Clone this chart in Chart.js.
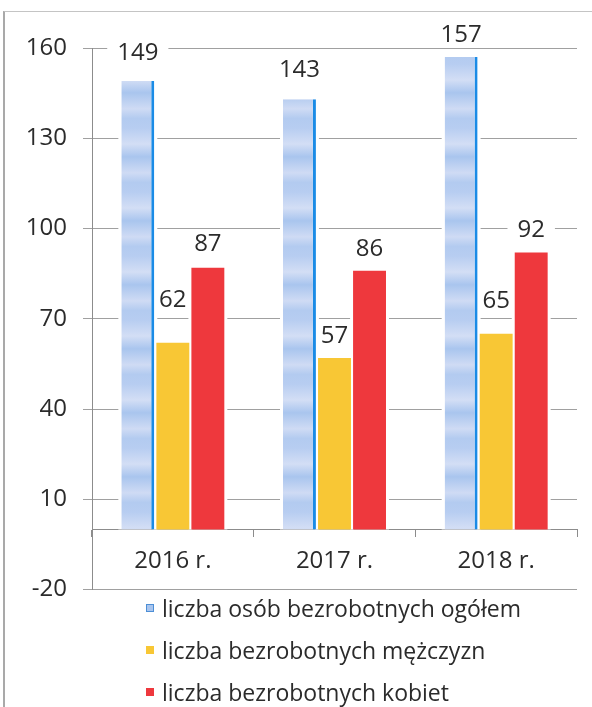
<!DOCTYPE html>
<html>
<head>
<meta charset="utf-8">
<script src="https://cdn.jsdelivr.net/npm/chart.js@4.4.1/dist/chart.umd.min.js"></script>
<style>
  body { margin: 0; background: #fff; font-family: "Open Sans", sans-serif; }
  #wrap { position: relative; width: 592px; height: 707px; overflow: hidden; }
  #frame { position: absolute; left: 3px; top: 11px; width: 620px; height: 720px;
           border-left: 2px solid #a9a9a9; border-top: 1px solid #c4c4c4; }
  #chart { position: absolute; left: 0; top: 0; }
  #legend { position: absolute; left: 146px; top: 587px; }
  .item { height: 42px; display: flex; align-items: center; font-size: 23px; color: #2b2b2b; }
  .box { width: 8px; height: 8px; margin-right: 8px; box-sizing: border-box; }
</style>
</head>
<body>
<div id="wrap">
  <div id="frame"></div>
  <canvas id="chart" width="592" height="620"></canvas>
  <div id="legend"></div>
</div>
<script>
// data
const years = ['2016 r.', '2017 r.', '2018 r.'];
const totalUnemployed = [149, 143, 157];
const menUnemployed = [62, 57, 65];
const womenUnemployed = [87, 86, 92];
const seriesNames = [
  'liczba osób bezrobotnych ogółem',
  'liczba bezrobotnych mężczyzn',
  'liczba bezrobotnych kobiet'
];
const yTickValues = [-20, 10, 40, 70, 100, 130, 160];

var ctx = document.getElementById('chart').getContext('2d');

// mottled light blue fill like the scanned bars
function bluePattern() {
  var c = document.createElement('canvas');
  c.width = 8; c.height = 64;
  var g = c.getContext('2d');
  var grad = g.createLinearGradient(0, 0, 0, 64);
  grad.addColorStop(0, '#b7cdf1');
  grad.addColorStop(0.25, '#d3def5');
  grad.addColorStop(0.45, '#a9c5ee');
  grad.addColorStop(0.7, '#cfdbf4');
  grad.addColorStop(0.85, '#b3cbf0');
  grad.addColorStop(1, '#b7cdf1');
  g.fillStyle = grad;
  g.fillRect(0, 0, 8, 64);
  return ctx.createPattern(c, 'repeat');
}

function labelY(bar, opts, di, i) { return bar.y - opts.lift[di][i]; }

// white margin round each bar and white patch behind each value label,
// painted over the grid but under the bars
var barHalo = {
  id: 'barHalo',
  beforeDatasetsDraw(chart) {
    var c = chart.ctx;
    var opts = chart.options.plugins.valueLabels;
    c.save();
    c.font = opts.font;
    c.fillStyle = '#fff';
    chart.data.datasets.forEach(function (ds, di) {
      chart.getDatasetMeta(di).data.forEach(function (bar, i) {
        c.fillRect(bar.x - bar.width / 2 - 3, bar.y, bar.width + 6, bar.base - bar.y);
        var w = c.measureText(String(ds.data[i])).width;
        var y = labelY(bar, opts, di, i);
        c.fillRect(bar.x - w / 2 - 10, y - 12, w + 20, 24);
      });
    });
    c.restore();
  }
};

// value labels above the bars
var valueLabels = {
  id: 'valueLabels',
  afterDatasetsDraw(chart, args, opts) {
    var c = chart.ctx;
    c.save();
    c.font = opts.font;
    c.textAlign = 'center';
    c.textBaseline = 'middle';
    c.fillStyle = opts.color;
    chart.data.datasets.forEach(function (ds, di) {
      chart.getDatasetMeta(di).data.forEach(function (bar, i) {
        c.fillText(String(ds.data[i]), bar.x, labelY(bar, opts, di, i));
      });
    });
    c.restore();
  }
};

var chart = new Chart(ctx, {
  type: 'bar',
  data: {
    labels: years,
    datasets: [
      {
        label: seriesNames[0],
        data: totalUnemployed,
        backgroundColor: bluePattern(),
        borderColor: '#1a8be6',
        borderWidth: { top: 0, right: 3, bottom: 0, left: 0 },
        swatch: '#a9c5ee', swatchBorder: '#4d8fd6'
      },
      {
        label: seriesNames[1],
        data: menUnemployed,
        backgroundColor: '#f8c735',
        swatch: '#f8c735'
      },
      {
        label: seriesNames[2],
        data: womenUnemployed,
        backgroundColor: '#ee383d',
        swatch: '#ee383d'
      }
    ]
  },
  options: {
    responsive: false,
    animation: false,
    layout: { padding: { top: 48, right: 15, bottom: 14, left: 0 } },
    datasets: { bar: { barPercentage: 0.94, categoryPercentage: 0.65 } },
    scales: {
      x: {
        position: { y: 0 },
        offset: true,
        grid: { drawOnChartArea: false, offset: true, tickLength: 7, color: '#8c8c8c' },
        border: { color: '#8c8c8c' },
        ticks: { padding: 10, color: '#2b2b2b', font: { family: 'Open Sans', size: 24 } }
      },
      y: {
        min: -20,
        max: 160,
        afterBuildTicks: function (s) { s.ticks = yTickValues.map(function (v) { return { value: v }; }); },
        afterFit: function (s) { s.width = 92; },
        grid: { color: '#a0a0a0', tickLength: 9 },
        border: { color: '#8c8c8c' },
        ticks: { padding: 16, color: '#2b2b2b', font: { family: 'Open Sans', size: 24 } }
      }
    },
    plugins: {
      legend: { display: false },
      tooltip: { enabled: false },
      valueLabels: {
        font: '24px "Open Sans"',
        color: '#2b2b2b',
        lift: [[28, 29, 22], [43, 22, 33], [23, 22, 22]]
      }
    }
  },
  plugins: [barHalo, valueLabels]
});

// legend list, left aligned under the plot
var legendEl = document.getElementById('legend');
chart.data.datasets.forEach(function (ds) {
  var row = document.createElement('div');
  row.className = 'item';
  var box = document.createElement('span');
  box.className = 'box';
  box.style.background = ds.swatch;
  if (ds.swatchBorder) box.style.border = '1px solid ' + ds.swatchBorder;
  row.appendChild(box);
  row.appendChild(document.createTextNode(ds.label));
  legendEl.appendChild(row);
});
</script>
</body>
</html>
